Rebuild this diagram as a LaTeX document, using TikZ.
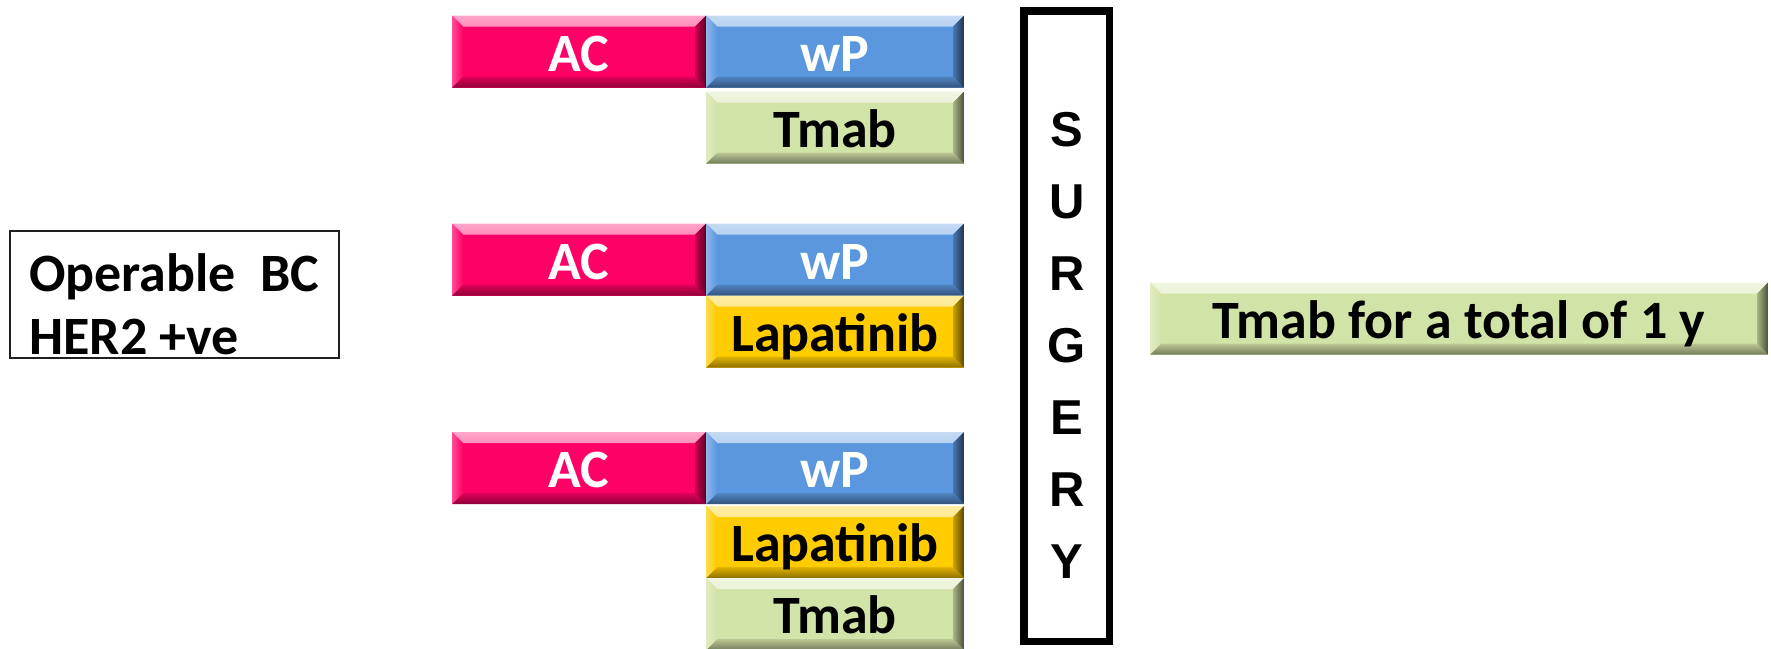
\documentclass[tikz,border=0pt]{standalone}
\usepackage{fontspec}
\newfontfamily\calfont{Carlito}
\newfontfamily\arialfont{Liberation Sans}
\definecolor{acpink}{HTML}{FF0066}
\definecolor{wpblue}{HTML}{5B97DE}
\definecolor{lapgold}{HTML}{FFCC00}
\definecolor{tmgreen}{HTML}{D2E3A8}
\definecolor{framegray}{HTML}{202020}
\def\bw{11pt}
\tikzset{
  bev/.style={fill=#1, draw=none, inner sep=0pt, outer sep=0pt,
    text height=39pt, text depth=0pt,
    font=\calfont\bfseries\fontsize{54}{64}\selectfont,
    path picture={
      % top bevel
      \shade[top color=#1!35!white, bottom color=#1!92!white]
        (path picture bounding box.north west) -- (path picture bounding box.north east)
        -- ([shift={(-\bw,-\bw)}]path picture bounding box.north east)
        -- ([shift={(\bw,-\bw)}]path picture bounding box.north west) -- cycle;
      % bottom bevel
      \shade[top color=#1!88!black, bottom color=#1!55!black]
        (path picture bounding box.south west) -- (path picture bounding box.south east)
        -- ([shift={(-\bw,\bw)}]path picture bounding box.south east)
        -- ([shift={(\bw,\bw)}]path picture bounding box.south west) -- cycle;
      % left bevel
      \shade[left color=#1!70!white, right color=#1]
        (path picture bounding box.north west)
        -- ([shift={(\bw,-\bw)}]path picture bounding box.north west)
        -- ([shift={(\bw,\bw)}]path picture bounding box.south west)
        -- (path picture bounding box.south west) -- cycle;
      % right bevel
      \shade[left color=#1!80!black, right color=#1!35!black]
        (path picture bounding box.north east)
        -- ([shift={(-\bw,-\bw)}]path picture bounding box.north east)
        -- ([shift={(-\bw,\bw)}]path picture bounding box.south east)
        -- (path picture bounding box.south east) -- cycle;
    }},
  colA/.style={minimum width=254pt, minimum height=72pt},
  colB/.style={minimum width=258pt, minimum height=72pt},
  lighttext/.style={text=white},
  darktext/.style={text=black}
}
\begin{document}
\begin{tikzpicture}[x=1pt,y=-1pt]
\useasboundingbox (0,0) rectangle (1771,648);

% patient group
\node[draw=framegray, line width=1.5pt, minimum width=329pt, minimum height=127pt,
      inner sep=0pt] (pt) at (174.5,294.5) {};
\node[anchor=base west, inner sep=0pt, font=\calfont\bfseries\fontsize{54}{63}\selectfont]
      (pt1) at (29,291) {Operable\ \ BC};
\node[anchor=base west, inner sep=0pt, font=\calfont\bfseries\fontsize{54}{63}\selectfont]
      (pt2) at (29,354) {HER2 +ve};

% arm 1
\node[bev=acpink, colA, lighttext] (ac1) at (579,51.5) {AC};
\node[bev=wpblue, colB, lighttext] (wp1) at (835,51.5) {wP};
\node[bev=tmgreen, colB, darktext] (tm1) at (835,127.5) {Tmab};

% arm 2
\node[bev=acpink, colA, lighttext] (ac2) at (579,259.5) {AC};
\node[bev=wpblue, colB, lighttext] (wp2) at (835,259.5) {wP};
\node[bev=lapgold, colB, darktext] (lp2) at (835,331.5) {Lapatinib};

% arm 3
\node[bev=acpink, colA, lighttext] (ac3) at (579,468) {AC};
\node[bev=wpblue, colB, lighttext] (wp3) at (835,468) {wP};
\node[bev=lapgold, colB, darktext] (lp3) at (835,542) {Lapatinib};
\node[bev=tmgreen, colB, darktext] (tm3) at (835,614) {Tmab};

% surgery
\node[draw=black, line width=7.5pt, minimum width=85.5pt, minimum height=630.5pt,
      inner sep=0pt] (surg) at (1066.5,326) {};
\node[align=center, inner sep=0pt,
      font=\arialfont\bfseries\fontsize{49}{72}\selectfont]
      (surglbl) at (1067,345.5) {S\\U\\R\\G\\E\\R\\Y};

% adjuvant
\node[bev=tmgreen, darktext, minimum width=618pt, minimum height=72pt] (adj) at (1459,318.5)
      {Tmab for a total of 1 y};
\end{tikzpicture}
\end{document}
